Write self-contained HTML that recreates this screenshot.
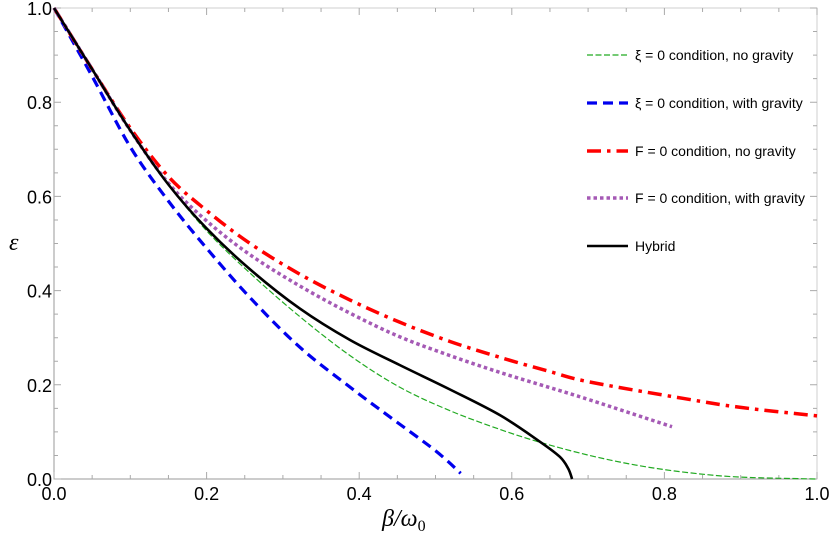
<!DOCTYPE html>
<html><head><meta charset="utf-8"><style>
html,body{margin:0;padding:0;background:#fff;}
svg{display:block;font-family:"Liberation Sans",sans-serif;}
</style></head><body>
<svg id="chart" width="830" height="537" viewBox="0 0 830 537" xmlns="http://www.w3.org/2000/svg">
<g id="axes"></g>
<g id="series"></g>
<g id="legend"></g>
<text x="9" y="250" font-family="Liberation Serif,serif" font-style="italic" font-size="24">ε</text>
<text x="382" y="526" font-family="Liberation Serif,serif" font-style="italic" font-size="24">β/ω<tspan font-size="16" dy="5" font-style="normal">0</tspan></text>
</svg>
<script>
const xTicks=[0,0.2,0.4,0.6,0.8,1.0];
const xTickLabels=["0.0","0.2","0.4","0.6","0.8","1.0"];
const yTicks=[0,0.2,0.4,0.6,0.8,1.0];
const yTickLabels=["0.0","0.2","0.4","0.6","0.8","1.0"];
const greenX=[0,0.05,0.1,0.15,0.2,0.257,0.322,0.388,0.453,0.519,0.585,0.637,0.702,0.768,0.834,0.9,1.0];
const greenY=[1,0.87,0.74,0.625,0.527,0.437,0.345,0.262,0.195,0.145,0.105,0.078,0.05,0.028,0.013,0.004,0];
const blueX=[0,0.05,0.1,0.15,0.2,0.257,0.322,0.388,0.44,0.5,0.533];
const blueY=[1,0.855,0.705,0.59,0.49,0.385,0.28,0.195,0.132,0.06,0.012];
const redX=[0,0.05,0.1,0.15,0.2,0.257,0.322,0.388,0.453,0.519,0.585,0.65,0.702,0.825,0.9,1.0];
const redY=[1,0.87,0.745,0.642,0.57,0.5,0.435,0.38,0.333,0.292,0.258,0.228,0.206,0.171,0.152,0.134];
const purpleX=[0,0.05,0.1,0.15,0.2,0.257,0.322,0.388,0.453,0.519,0.585,0.65,0.702,0.81];
const purpleY=[1,0.87,0.74,0.628,0.548,0.476,0.41,0.352,0.302,0.262,0.226,0.194,0.168,0.111];
const hybridX=[0,0.05,0.1,0.15,0.2,0.257,0.322,0.388,0.453,0.519,0.585,0.637,0.663,0.674,0.679];
const hybridY=[1,0.87,0.74,0.625,0.532,0.445,0.362,0.295,0.242,0.19,0.135,0.079,0.047,0.022,0];
const legendLabels=["ξ = 0 condition, no gravity","ξ = 0 condition, with gravity","F = 0 condition, no gravity","F = 0 condition, with gravity","Hybrid"];

const NS="http://www.w3.org/2000/svg";
const X0=54,X1=817,Y0=479,Y1=8;
function sx(v){return X0+(X1-X0)*v;}
function sy(v){return Y0-(Y0-Y1)*v;}
function mk(tag,attrs,parent){const e=document.createElementNS(NS,tag);for(const k in attrs)e.setAttribute(k,attrs[k]);parent.appendChild(e);return e;}
const axes=document.getElementById('axes');
const fr=mk('rect',{x:X0,y:Y1,width:X1-X0,height:Y0-Y1,fill:'none',stroke:'#cfcfcf','stroke-width':1},axes);


const ax=mk('path',{d:`M${X0},${Y1}V${Y0}H${X1}`,fill:'none',stroke:'#999','stroke-width':1},axes);


for(let i=0;i<=20;i++){
  const v=i/20;const major=i%4===0;const L=major?7:4;
  const px=sx(v),py=sy(v);
  const t1=mk('path',{d:`M${px},${Y0}v${-L}M${px},${Y1}v${L}M${X0},${py}h${L}M${X1},${py}h${-L}`,stroke:'#aaa','stroke-width':1},axes);
  
  
}
xTicks.forEach((v,i)=>{
  const t=mk('text',{x:sx(v),y:500,'text-anchor':'middle','font-size':18,fill:'#000'},axes);
  t.textContent=xTickLabels[i];
  
  
});
yTicks.forEach((v,i)=>{
  const t=mk('text',{x:X0-2,y:sy(v)+7,'text-anchor':'end','font-size':18,fill:'#000'},axes);
  t.textContent=yTickLabels[i];
  
  
});
function pathD(xs,ys){
  const p=xs.map((x,i)=>[sx(x),sy(ys[i])]);
  let d=`M${p[0][0]},${p[0][1]}`;
  for(let i=0;i<p.length-1;i++){
    const a=p[i-1]||p[i],b=p[i],c=p[i+1],e=p[i+2]||c;
    d+=`C${b[0]+(c[0]-a[0])/6},${b[1]+(c[1]-a[1])/6} ${c[0]-(e[0]-b[0])/6},${c[1]-(e[1]-b[1])/6} ${c[0]},${c[1]}`;
  }
  return d;
}
const styles=[
 {xs:greenX,ys:greenY,c:'#22aa22',w:1.2,da:'6,2.5',name:'series-xi-no-gravity'},
 {xs:blueX,ys:blueY,c:'#0000ee',w:3.2,da:'10,6',name:'series-xi-with-gravity'},
 {xs:redX,ys:redY,c:'#ff0000',w:3.5,da:'14,6,3.5,6',name:'series-f-no-gravity'},
 {xs:purpleX,ys:purpleY,c:'#a55ab5',w:3.5,da:'3.5,3',name:'series-f-with-gravity'},
 {xs:hybridX,ys:hybridY,c:'#000',w:2.6,da:'none',name:'series-hybrid'}
];
const sg=document.getElementById('series');
styles.forEach(s=>{
  const p=mk('path',{d:pathD(s.xs,s.ys),fill:'none',stroke:s.c,'stroke-width':s.w,'stroke-dasharray':s.da},sg);
  
  
});
const lg=document.getElementById('legend');
const rows=[55,103,151,198,246];
styles.forEach((s,i)=>{
  const l=mk('line',{x1:587,x2:628,y1:rows[i],y2:rows[i],stroke:s.c,'stroke-width':s.w,'stroke-dasharray':s.da},lg);
  
  
  const t=mk('text',{x:635,y:rows[i]+5,'font-size':14,fill:'#000'},lg);
  t.textContent=legendLabels[i];
  
  
});
</script>
</body></html>
